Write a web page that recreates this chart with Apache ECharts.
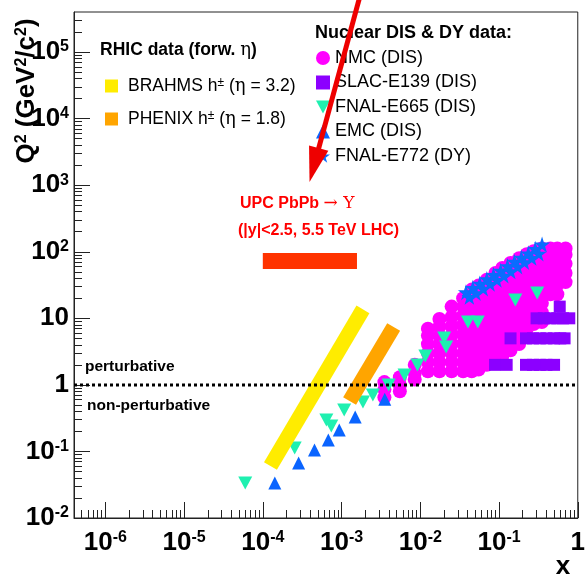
<!DOCTYPE html>
<html>
<head>
<meta charset="utf-8">
<script src="https://cdn.jsdelivr.net/npm/echarts@6/dist/echarts.min.js"></script>
<style>
  html, body { margin: 0; padding: 0; background: #fff; }
  #chart { width: 588px; height: 575px; }
</style>
</head>
<body>
<div id="chart"></div>
<script>
// Axis ranges (x and Q^2, both logarithmic)
const X_MIN = 4e-7, X_MAX = 1;
const Q2_MIN = 1e-2, Q2_MAX = 4e5;
const xTickExponents = [-6, -5, -4, -3, -2, -1, 0];
const yTickExponents = [-2, -1, 0, 1, 2, 3, 4, 5];

// RHIC forward hadron kinematic bands: [x, Q^2] at both ends
const brahmsBand = [[1.25e-4, 0.0604], [1.87e-3, 13.6]];
const phenixBand = [[1.265e-3, 0.573], [4.59e-3, 7.40]];

// LHC UPC Upsilon coverage: x from..to, Q^2 from..to
const upcBox = [1.0e-4, 1.57e-3, 55, 96];

// NMC (DIS): x bins and the Q^2 values measured in each bin
const nmcX = [0.0035, 0.0055, 0.0085, 0.0125, 0.0175, 0.025, 0.035, 0.045, 0.055, 0.07,
              0.09, 0.11, 0.14, 0.18, 0.225, 0.275, 0.35, 0.45, 0.55, 0.7];
const nmcQ2 = [
  [0.65, 0.85, 1.1],
  [0.8, 1.0, 1.3],
  [1.2, 1.5, 2.0],
  [1.6, 2.2, 3.0, 4.1, 5.5, 7.0],
  [1.6, 2.2, 3.0, 4.1, 5.5, 7.5, 9.8],
  [1.6, 2.2, 3.0, 4.1, 5.6, 7.6, 10.5, 15],
  [1.6, 2.2, 3.0, 4.2, 5.8, 8.0, 11, 15, 20],
  [1.6, 2.2, 3.1, 4.3, 6.0, 8.3, 11.5, 16, 22, 27],
  [1.7, 2.4, 3.3, 4.6, 6.4, 8.9, 12.4, 17, 24, 31],
  [2.0, 2.8, 3.9, 5.4, 7.5, 10.5, 14.6, 20, 28, 38],
  [2.2, 3.0, 4.2, 5.8, 8.1, 11.3, 15.7, 22, 30, 40, 48],
  [2.7, 3.7, 5.2, 7.2, 10, 14, 19.5, 27, 37, 50, 57],
  [3.3, 4.6, 6.4, 8.9, 12.4, 17, 24, 33, 46, 60, 68],
  [4.1, 5.7, 7.9, 11, 15.3, 21, 29.5, 41, 57, 72, 80],
  [5.8, 8.0, 11.2, 15.5, 21.5, 30, 42, 58, 78, 92],
  [8.2, 11.4, 16, 22, 31, 43, 60, 83, 102],
  [8.8, 12.2, 17, 23.5, 33, 46, 64, 88, 112],
  [23, 32, 44, 61, 85, 112],
  [23, 32, 44, 61, 85, 112],
  [35, 48, 66, 90, 112]
];

// SLAC-E139 (DIS): Q^2 rows and their x values
const slacQ2 = [2, 5, 10, 15];
const slacX = [
  [0.089, 0.125, 0.22, 0.27, 0.33, 0.40, 0.50],
  [0.14, 0.22, 0.27, 0.33, 0.40, 0.50, 0.60, 0.68],
  [0.30, 0.37, 0.45, 0.55, 0.65, 0.78],
  [0.59]
];

// FNAL-E665 (DIS): [x, Q^2]
const e665Points = [
  [5.98e-5, 0.0336], [2.54e-4, 0.113], [6.41e-4, 0.297], [7.41e-4, 0.241],
  [1.08e-3, 0.419], [1.87e-3, 0.553], [2.50e-3, 0.705], [3.97e-3, 0.995],
  [6.31e-3, 1.41], [9.2e-3, 1.99], [0.0116, 2.72], [0.0201, 5.06],
  [0.0213, 3.71], [0.0403, 8.81], [0.0537, 8.81], [0.161, 18.8], [0.305, 24.0]
];

// EMC (DIS): [x, Q^2]
const emcPoints = [
  [1.42e-4, 0.0336], [2.85e-4, 0.067], [4.53e-4, 0.105], [6.79e-4, 0.149],
  [9.35e-4, 0.21], [1.49e-3, 0.33], [3.54e-3, 0.61]
];

// FNAL-E772 (DY): [x, Q^2]
const e772Points = [
  [0.038, 24.7], [0.0465, 28.7], [0.057, 33.3], [0.070, 38.8], [0.085, 45], [0.105, 52],
  [0.128, 61], [0.157, 71], [0.192, 82], [0.235, 95], [0.288, 111], [0.352, 129],
  [0.042, 21], [0.051, 24], [0.063, 28], [0.077, 33], [0.094, 38], [0.115, 44],
  [0.141, 51], [0.172, 60], [0.21, 70], [0.26, 81], [0.32, 94]
];

// Annotation arrow, tail and tip in [x, Q^2]
const arrowTail = [1.8e-3, 8.6e5];
const arrowTip = [3.92e-4, 1117];

const lg = Math.log10;
const toLog = p => [lg(p[0]), lg(p[1])];
const FONT = '"Liberation Sans", Arial, Helvetica, sans-serif';
const SERIF = '"DejaVu Serif", "Liberation Serif", serif';

const xLo = lg(X_MIN), xHi = lg(X_MAX), yLo = lg(Q2_MIN), yHi = lg(Q2_MAX);

function minorTicks(lo, hi) {
  const out = [];
  for (let n = Math.floor(lo); n < Math.ceil(hi); n++) {
    for (let k = 2; k <= 9; k++) {
      const v = n + lg(k);
      if (v > lo && v < hi) out.push(v);
    }
  }
  return out;
}

function powLabel(v) {
  const e = Math.round(v);
  if (e === 0) return '{b|1}';
  if (e === 1) return '{b|10}';
  return '{b|10}{s|' + e + '}';
}
const axisRich = {
  b: { fontSize: 26, fontWeight: 'bold', fontFamily: FONT, color: '#000' },
  s: { fontSize: 16, fontWeight: 'bold', fontFamily: FONT, color: '#000', verticalAlign: 'top' }
};

const nmcPoints = [];
nmcX.forEach((x, i) => nmcQ2[i].forEach(q => nmcPoints.push([x, q])));
const slacPoints = [];
slacQ2.forEach((q, i) => slacX[i].forEach(x => slacPoints.push([x, q])));

const NAME_BRAHMS = 'BRAHMS h± (η = 3.2)';
const NAME_PHENIX = 'PHENIX h± (η = 1.8)';
const legendRich = {
  s: { fontSize: 12, fontFamily: FONT, color: '#000', verticalAlign: 'top' },
  g: { fontSize: 18, fontFamily: SERIF, color: '#000' },
  t: { fontSize: 17.5, fontFamily: FONT, color: '#000' }
};
function rhicLegendText(name) {
  const m = name.match(/^(\w+) h± \(η = ([\d.]+)\)$/);
  return '{t|' + m[1] + ' h}{s|±}{t| (}{g|η}{t| = ' + m[2] + ')}';
}

const STAR = 'path://M50,0 L61,35 L98,35 L68,57 L79,91 L50,70 L21,91 L32,57 L2,35 L39,35 Z';
const DOWN_TRIANGLE = 'path://M0,0 L14,0 L7,13 Z';

const chart = echarts.init(document.getElementById('chart'), null, { renderer: 'canvas' });

const option = {
  animation: false,
  backgroundColor: '#fff',
  grid: { left: 74, right: 5, top: 12, bottom: 57, show: true, borderColor: '#222', borderWidth: 1, backgroundColor: 'transparent' },
  xAxis: [
    {
      type: 'value', min: xLo, max: xHi, position: 'bottom',
      axisLine: { show: true, onZero: false, lineStyle: { color: '#222', width: 1 } },
      splitLine: { show: false },
      axisTick: { show: true, inside: true, length: 16, customValues: xTickExponents, lineStyle: { color: '#222' } },
      axisLabel: { show: true, customValues: xTickExponents, margin: 12, formatter: powLabel, rich: axisRich }
    },
    {
      type: 'value', min: xLo, max: xHi, position: 'bottom',
      axisLine: { show: false, onZero: false }, splitLine: { show: false },
      axisTick: { show: true, inside: true, length: 8, customValues: minorTicks(xLo, xHi), lineStyle: { color: '#222' } },
      axisLabel: { show: false }
    }
  ],
  yAxis: [
    {
      type: 'value', min: yLo, max: yHi, position: 'left',
      axisLine: { show: true, onZero: false, lineStyle: { color: '#222', width: 1 } },
      splitLine: { show: false },
      axisTick: { show: true, inside: true, length: 16, customValues: yTickExponents, lineStyle: { color: '#222' } },
      axisLabel: { show: true, customValues: yTickExponents, margin: 5, formatter: powLabel, rich: axisRich }
    },
    {
      type: 'value', min: yLo, max: yHi, position: 'left',
      axisLine: { show: false, onZero: false }, splitLine: { show: false },
      axisTick: { show: true, inside: true, length: 8, customValues: minorTicks(yLo, yHi), lineStyle: { color: '#222' } },
      axisLabel: { show: false }
    }
  ],
  legend: [
    {
      left: 100, top: 72, orient: 'vertical', itemWidth: 13, itemHeight: 13, itemGap: 15,
      selectedMode: false,
      data: [{ name: NAME_BRAHMS, icon: 'rect' }, { name: NAME_PHENIX, icon: 'rect' }],
      formatter: rhicLegendText,
      textStyle: { fontSize: 17.5, fontFamily: FONT, color: '#000', padding: [0, 0, 0, 5], rich: legendRich },
      itemStyle: { borderWidth: 0 }
    },
    {
      left: 311, top: 43, orient: 'vertical', itemWidth: 14, itemHeight: 14, itemGap: 4.5,
      selectedMode: false,
      data: [
        { name: 'NMC (DIS)' },
        { name: 'SLAC-E139 (DIS)' },
        { name: 'FNAL-E665 (DIS)', icon: DOWN_TRIANGLE },
        { name: 'EMC (DIS)' },
        { name: 'FNAL-E772 (DY)' }
      ],
      textStyle: { fontSize: 18, fontFamily: FONT, color: '#000', lineHeight: 20 },
      itemStyle: { borderWidth: 0 }
    }
  ],
  series: [
    {
      name: NAME_BRAHMS, type: 'line', xAxisIndex: 0, yAxisIndex: 0,
      data: brahmsBand.map(toLog), showSymbol: false, symbol: 'none', color: '#ffec00',
      itemStyle: { color: '#ffec00' },
      lineStyle: { color: '#ffec00', width: 15, cap: 'butt' }, silent: true
    },
    {
      name: NAME_PHENIX, type: 'line', xAxisIndex: 0, yAxisIndex: 0,
      data: phenixBand.map(toLog), showSymbol: false, symbol: 'none', color: '#ffa500',
      itemStyle: { color: '#ffa500' },
      lineStyle: { color: '#ffa500', width: 15, cap: 'butt' }, silent: true
    },
    {
      name: 'UPC', type: 'custom', xAxisIndex: 0, yAxisIndex: 0, silent: true,
      data: [[lg(upcBox[0]), lg(upcBox[1]), lg(upcBox[2]), lg(upcBox[3])]],
      encode: { x: [0, 1], y: [2, 3] },
      renderItem: (params, api) => {
        const p0 = api.coord([api.value(0), api.value(2)]);
        const p1 = api.coord([api.value(1), api.value(3)]);
        return {
          type: 'rect',
          shape: { x: p0[0], y: p1[1], width: p1[0] - p0[0], height: p0[1] - p1[1] },
          style: { fill: '#ff3300' }
        };
      }
    },
    {
      name: 'Q2 = 1', type: 'line', xAxisIndex: 0, yAxisIndex: 0, silent: true,
      data: [[xLo, 0], [xHi, 0]], showSymbol: false, symbol: 'none',
      lineStyle: { color: '#000', width: 3, type: [3, 3] }
    },
    {
      name: 'NMC (DIS)', type: 'scatter', data: nmcPoints.map(toLog),
      symbol: 'circle', symbolSize: 14, itemStyle: { color: '#ff00ff', opacity: 1 }, silent: true
    },
    {
      name: 'SLAC-E139 (DIS)', type: 'scatter', data: slacPoints.map(toLog),
      symbol: 'rect', symbolSize: 12, itemStyle: { color: '#8c00ff', opacity: 1 }, silent: true
    },
    {
      name: 'FNAL-E665 (DIS)', type: 'scatter', data: e665Points.map(toLog),
      symbol: DOWN_TRIANGLE, symbolSize: [14, 13], itemStyle: { color: '#1ff0b0', opacity: 1 }, silent: true
    },
    {
      name: 'EMC (DIS)', type: 'scatter', data: emcPoints.map(toLog),
      symbol: 'triangle', symbolSize: [13, 13], itemStyle: { color: '#0a64ff', opacity: 1 }, silent: true
    },
    {
      name: 'FNAL-E772 (DY)', type: 'scatter', data: e772Points.map(toLog),
      symbol: STAR, symbolSize: 16, itemStyle: { color: '#0a6cff', opacity: 1 }, silent: true
    }
  ]
};

chart.setOption(option);

// Text annotations and the arrow pointing at the UPC region
const tail = chart.convertToPixel({ gridIndex: 0 }, toLog(arrowTail));
const tip = chart.convertToPixel({ gridIndex: 0 }, toLog(arrowTip));
const dx = tip[0] - tail[0], dy = tip[1] - tail[1];
const len = Math.hypot(dx, dy);
const ux = dx / len, uy = dy / len;
const headLen = 35, headHalf = 10;
const base = [tip[0] - ux * headLen, tip[1] - uy * headLen];

chart.setOption({
  graphic: [
    {
      type: 'text', x: 27, y: 91, rotation: Math.PI / 2, silent: true,
      style: {
        text: '{b|Q}{s|2}{b| (GeV}{s|2}{b|/c}{s|2}{b|)}',
        align: 'center', verticalAlign: 'middle',
        rich: {
          b: { fontSize: 26, fontWeight: 'bold', fontFamily: FONT, fill: '#000' },
          s: { fontSize: 16, fontWeight: 'bold', fontFamily: FONT, fill: '#000', verticalAlign: 'top' }
        }
      }
    },
    {
      type: 'text', x: 563, y: 567, silent: true,
      style: { text: 'x', font: 'bold 26px ' + FONT, fill: '#000', align: 'center', verticalAlign: 'middle' }
    },
    {
      type: 'text', x: 100, y: 50, silent: true,
      style: {
        text: '{b|RHIC data (forw. }{g|η}{b|)}', verticalAlign: 'middle',
        rich: {
          b: { fontSize: 17.5, fontWeight: 'bold', fontFamily: FONT, fill: '#000' },
          g: { fontSize: 18, fontFamily: SERIF, fill: '#000' }
        }
      }
    },
    {
      type: 'text', x: 315, y: 33, silent: true,
      style: { text: 'Nuclear DIS & DY data:', font: 'bold 18px ' + FONT, fill: '#000', verticalAlign: 'middle' }
    },
    {
      type: 'text', x: 85, y: 367, silent: true,
      style: { text: 'perturbative', font: 'bold 15.5px ' + FONT, fill: '#000', verticalAlign: 'middle' }
    },
    {
      type: 'text', x: 87, y: 406, silent: true,
      style: { text: 'non-perturbative', font: 'bold 15.5px ' + FONT, fill: '#000', verticalAlign: 'middle' }
    },
    {
      type: 'text', x: 240, y: 204, silent: true,
      style: {
        text: '{b|UPC PbPb }{g|→ Υ}', verticalAlign: 'middle',
        rich: {
          b: { fontSize: 16, fontWeight: 'bold', fontFamily: FONT, fill: '#ff0000' },
          g: { fontSize: 17, fontFamily: SERIF, fill: '#ff0000' }
        }
      }
    },
    {
      type: 'text', x: 238, y: 231, silent: true,
      style: { text: '(|y|<2.5, 5.5 TeV LHC)', font: 'bold 16px ' + FONT, fill: '#ff0000', verticalAlign: 'middle' }
    },
    {
      type: 'line', silent: true, z: 100,
      shape: { x1: tail[0], y1: tail[1], x2: base[0] + ux * 4, y2: base[1] + uy * 4 },
      style: { stroke: '#ee0000', lineWidth: 5 }
    },
    {
      type: 'polygon', silent: true, z: 100,
      shape: { points: [tip, [base[0] - uy * headHalf, base[1] + ux * headHalf], [base[0] + uy * headHalf, base[1] - ux * headHalf]] },
      style: { fill: '#ee0000' }
    }
  ]
});
</script>
</body>
</html>
